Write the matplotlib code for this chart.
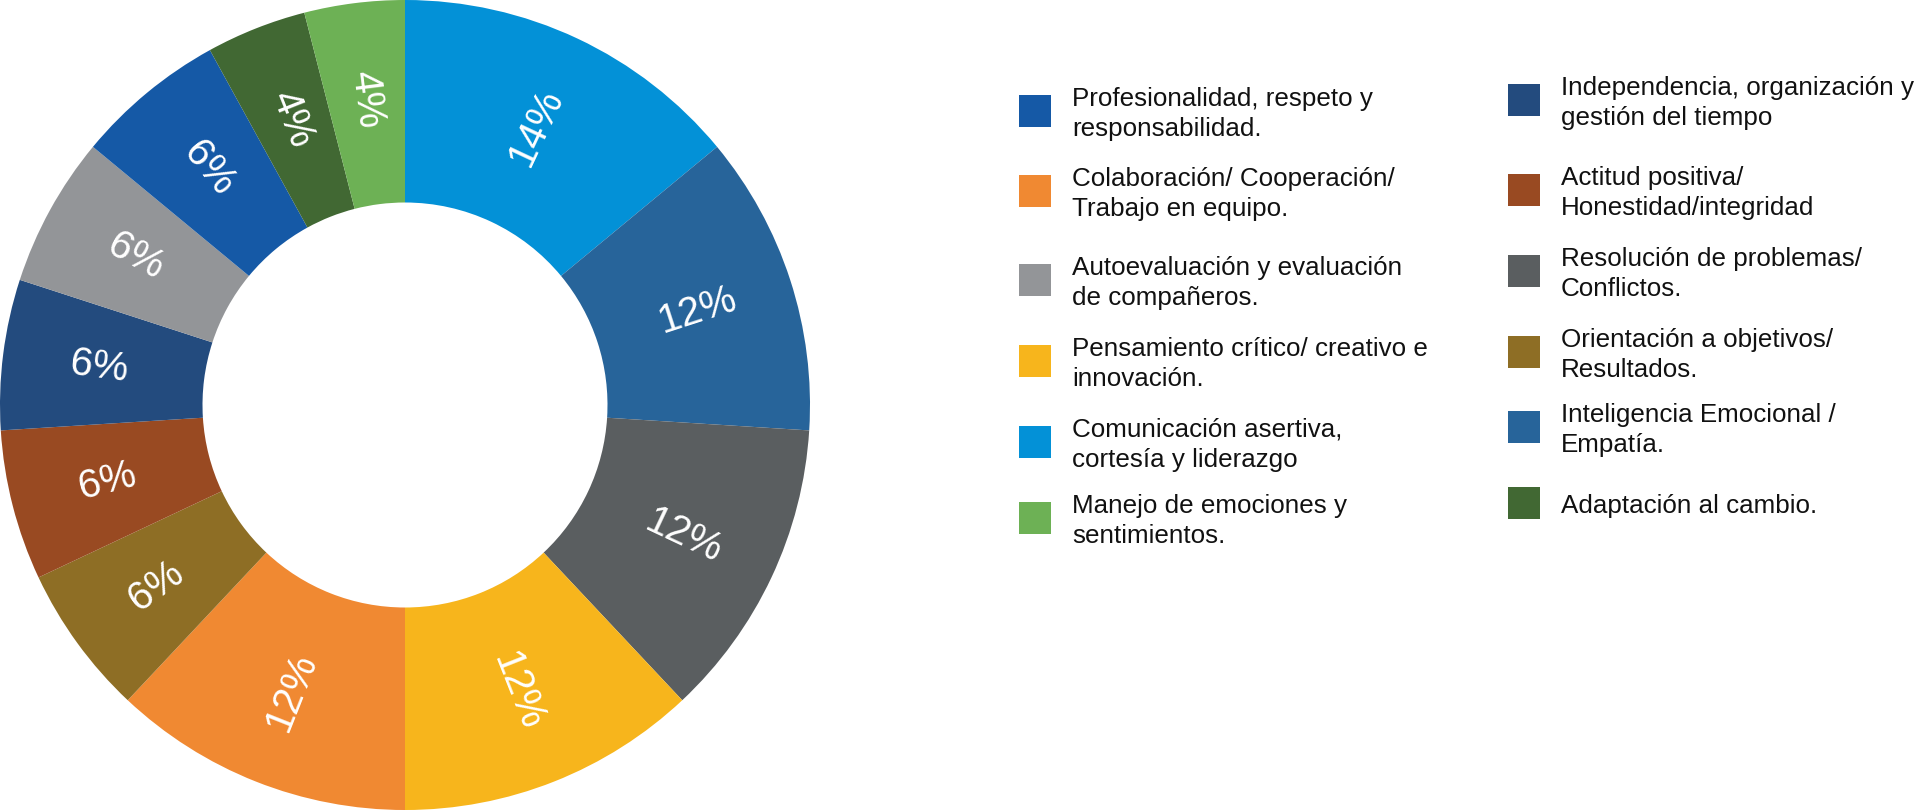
import matplotlib.pyplot as plt
from matplotlib.patches import Rectangle
import numpy as np

plt.rcParams['font.family'] = ['Liberation Sans', 'DejaVu Sans']

# Slices, clockwise from 12 o'clock
categories = [
    'Comunicación asertiva,\ncortesía y liderazgo',
    'Inteligencia Emocional /\nEmpatía.',
    'Resolución de problemas/\nConflictos.',
    'Pensamiento crítico/ creativo e\ninnovación.',
    'Colaboración/ Cooperación/\nTrabajo en equipo.',
    'Orientación a objetivos/\nResultados.',
    'Actitud positiva/\nHonestidad/integridad',
    'Independencia, organización y\ngestión del tiempo',
    'Autoevaluación y evaluación\nde compañeros.',
    'Profesionalidad, respeto y\nresponsabilidad.',
    'Adaptación al cambio.',
    'Manejo de emociones y\nsentimientos.',
]
values = [14, 12, 12, 12, 12, 6, 6, 6, 6, 6, 4, 4]
colors = ['#0391d7', '#27649a', '#5a5e60', '#f7b51c', '#f08932', '#8e6e25',
          '#994a22', '#234b7e', '#939598', '#1559a6', '#416833', '#6db155']

# legend order (column 1 then column 2), as indices into categories
legend_col1 = [9, 4, 8, 3, 0, 11]
legend_col2 = [7, 6, 2, 5, 1, 10]

fig = plt.figure(figsize=(19.24, 8.10), dpi=100)
ax = fig.add_axes([0, 0, 810 / 1924, 1])

wedges, _ = ax.pie(values, colors=colors, startangle=90, counterclock=False,
                   radius=1.0, wedgeprops=dict(width=0.5, linewidth=0))
ax.set_xlim(-1.0, 1.0)
ax.set_ylim(-1.0, 1.0)
ax.set_aspect('equal')
ax.axis('off')

# percentage labels, written along the radius
for w, v in zip(wedges, values):
    mid = (w.theta1 + w.theta2) / 2.0
    r = 0.76
    x = r * np.cos(np.radians(mid))
    y = r * np.sin(np.radians(mid))
    rot = mid % 360
    if rot > 90 and rot < 270:
        rot -= 180
    if rot >= 270:
        rot -= 360
    ax.text(x, y, f'{v}%', color='white', fontsize=29, rotation=rot,
            rotation_mode='anchor', ha='center', va='center')

# legend drawn in pixel coordinates
lax = fig.add_axes([0, 0, 1, 1])
lax.set_xlim(0, 1924)
lax.set_ylim(810, 0)
lax.axis('off')

col1_y = [111, 191, 280, 361, 442, 518]
col2_y = [100, 190, 271, 352, 427, 503]
for xs, ys, idx in [(1019, col1_y, legend_col1), (1508, col2_y, legend_col2)]:
    for yc, i in zip(ys, idx):
        lax.add_patch(Rectangle((xs, yc - 16), 32, 32, color=colors[i], lw=0))
        lax.text(xs + 53, yc + 3, categories[i], fontsize=18.7, color='#111111',
                 ha='left', va='center', linespacing=1.33)

fig.savefig('out.png', dpi=100)
